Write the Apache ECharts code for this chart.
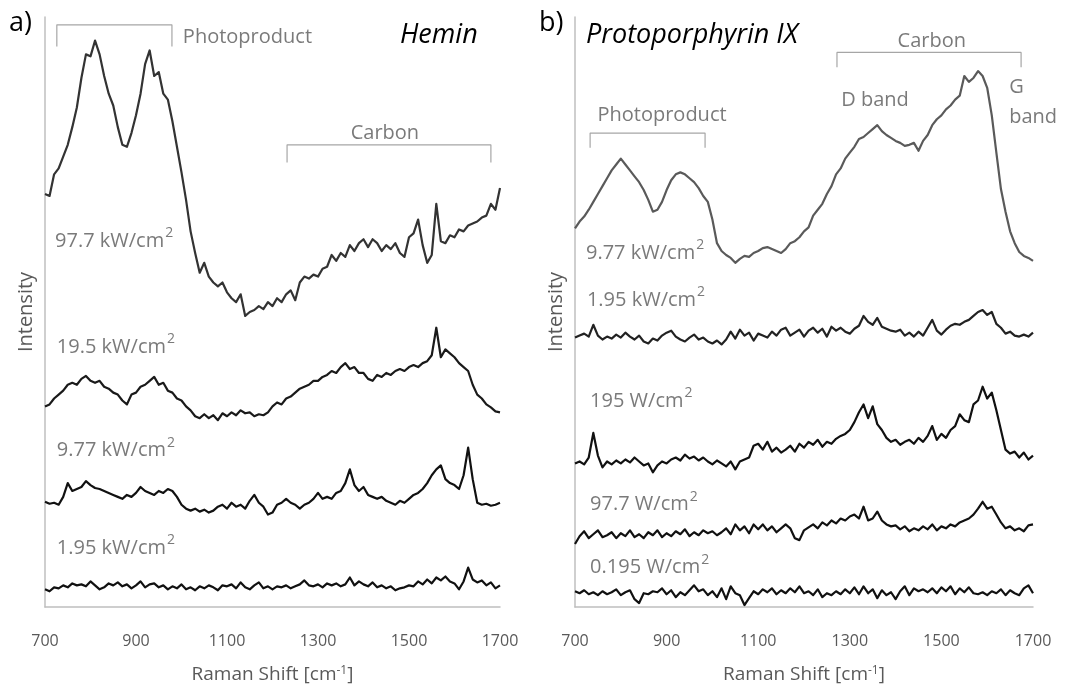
<!DOCTYPE html>
<html>
<head>
<meta charset="utf-8">
<title>Raman spectra vs. laser power</title>
<script src="https://cdn.jsdelivr.net/npm/echarts@6/dist/echarts.min.js"></script>
<style>
  html, body { margin: 0; padding: 0; background: #fff; }
  #chart { width: 1069px; height: 689px; }
</style>
</head>
<body>
<div id="chart"></div>
<script>
// Raman shift positions (cm-1), shared by every spectrum
const ramanShift = [
  700, 710, 720, 730, 740, 750, 760, 770, 780, 790,
  800, 810, 820, 830, 840, 850, 860, 870, 880, 890,
  900, 910, 920, 930, 940, 950, 960, 970, 980, 990,
  1000, 1010, 1020, 1030, 1040, 1050, 1060, 1070, 1080, 1090,
  1100, 1110, 1120, 1130, 1140, 1150, 1160, 1170, 1180, 1190,
  1200, 1210, 1220, 1230, 1240, 1250, 1260, 1270, 1280, 1290,
  1300, 1310, 1320, 1330, 1340, 1350, 1360, 1370, 1380, 1390,
  1400, 1410, 1420, 1430, 1440, 1450, 1460, 1470, 1480, 1490,
  1500, 1510, 1520, 1530, 1540, 1550, 1560, 1570, 1580, 1590,
  1600, 1610, 1620, 1630, 1640, 1650, 1660, 1670, 1680, 1690,
  1700
]
const xTicks = [700, 900, 1100, 1300, 1500, 1700]

// a) Hemin, stacked spectra (offset intensity, arb. units)
const hemin977kW = [
  420, 418, 440, 446, 458, 470, 488, 508, 538, 562,
  560, 576, 562, 540, 522, 510, 488, 470, 468, 482,
  500, 522, 552, 566, 540, 544, 522, 516, 494, 468,
  442, 414, 382, 360, 340, 350, 336, 330, 326, 330,
  320, 314, 310, 318, 296, 300, 302, 306, 303, 310,
  306, 314, 310, 318, 322, 312, 330, 336, 334, 338,
  336, 344, 346, 358, 352, 360, 356, 368, 362, 370,
  374, 366, 374, 370, 362, 368, 364, 370, 360, 356,
  376, 380, 394, 368, 350, 358, 410, 372, 370, 378,
  376, 384, 382, 388, 390, 392, 396, 398, 410, 404,
  426
]
const hemin195kW = [
  204, 206, 212, 216, 220, 226, 228, 226, 232, 235,
  230, 228, 230, 224, 222, 218, 216, 210, 206, 216,
  218, 224, 226, 230, 234, 226, 228, 220, 218, 212,
  210, 204, 200, 194, 192, 196, 192, 195, 190, 197,
  194, 198, 195, 200, 197, 198, 194, 196, 195, 198,
  204, 208, 206, 212, 214, 218, 222, 224, 226, 230,
  230, 234, 236, 240, 238, 244, 248, 242, 244, 238,
  238, 232, 230, 236, 234, 238, 236, 240, 242, 240,
  244, 246, 244, 248, 250, 256, 284, 254, 262, 258,
  254, 248, 244, 240, 226, 216, 212, 206, 203, 199,
  198
]
const hemin977kWlow = [
  107, 105, 106, 104, 112, 126, 118, 120, 122, 128,
  124, 121, 120, 118, 116, 114, 112, 110, 114, 112,
  116, 122, 118, 116, 114, 118, 116, 120, 118, 112,
  104, 100, 98, 100, 97, 99, 96, 98, 102, 104,
  100, 106, 102, 104, 100, 108, 114, 106, 102, 94,
  96, 104, 106, 110, 106, 104, 100, 104, 106, 110,
  116, 110, 112, 110, 116, 118, 126, 140, 124, 118,
  122, 114, 112, 110, 112, 108, 106, 104, 108, 106,
  110, 114, 116, 120, 126, 134, 140, 144, 130, 126,
  124, 120, 134, 162, 130, 106, 104, 105, 103, 104,
  106
]
const hemin195kWlow = [
  18, 16, 20, 19, 22, 20, 24, 22, 23, 21,
  26, 22, 18, 20, 24, 22, 25, 21, 23, 19,
  22, 26, 20, 23, 24, 20, 22, 18, 21, 19,
  23, 18, 20, 17, 21, 19, 22, 20, 17, 22,
  21, 23, 19, 25, 20, 18, 22, 25, 19, 21,
  18, 21, 20, 22, 19, 21, 23, 27, 22, 21,
  23, 20, 24, 22, 24, 21, 23, 30, 22, 26,
  23, 21, 25, 20, 22, 19, 21, 17, 19, 20,
  22, 21, 26, 23, 28, 24, 30, 27, 31, 26,
  24, 18, 26, 40, 28, 25, 27, 22, 25, 19,
  22
]

// b) Protoporphyrin IX
const ppix977kW = [
  385, 392, 397, 404, 412, 420, 428, 436, 444, 450,
  456, 450, 444, 438, 432, 424, 414, 402, 404, 412,
  424, 434, 440, 442, 440, 436, 432, 426, 418, 412,
  394, 370, 362, 358, 355, 350, 354, 357, 356, 360,
  362, 365, 366, 364, 362, 360, 364, 370, 372, 376,
  382, 386, 398, 404, 410, 420, 428, 440, 446, 456,
  462, 468, 476, 478, 482, 486, 490, 484, 480, 477,
  474, 472, 469, 470, 472, 464, 474, 480, 490, 496,
  500, 506, 510, 516, 520, 540, 534, 538, 545, 540,
  528, 500, 462, 425, 402, 382, 370, 361, 357, 355,
  352
]
const ppix195kW = [
  274, 276, 278, 275, 287, 276, 272, 275, 273, 277,
  274, 279, 275, 272, 276, 270, 268, 273, 271, 276,
  279, 281, 275, 272, 270, 274, 277, 272, 274, 270,
  268, 271, 267, 272, 280, 273, 282, 276, 279, 271,
  278, 276, 274, 280, 276, 282, 284, 276, 279, 282,
  275, 281, 284, 279, 283, 275, 285, 281, 284, 280,
  278, 283, 286, 296, 290, 287, 294, 285, 283, 281,
  280, 282, 276, 279, 275, 280, 276, 284, 292, 281,
  277, 282, 286, 288, 287, 290, 292, 296, 300, 302,
  297, 300, 288, 284, 278, 280, 276, 275, 277, 275,
  279
]
const ppix195W = [
  146, 148, 145, 152, 177, 154, 142, 148, 145, 149,
  146, 150, 147, 152, 148, 144, 146, 137, 144, 148,
  146, 150, 152, 149, 155, 151, 153, 149, 152, 148,
  145, 149, 146, 143, 148, 140, 148, 150, 152, 164,
  166, 160, 168, 158, 162, 157, 160, 164, 158, 166,
  162, 168, 165, 170, 163, 168, 166, 171, 174, 176,
  180, 188, 198, 206, 192, 204, 186, 180, 172, 168,
  170, 165, 168, 170, 166, 172, 168, 174, 184, 170,
  176, 172, 180, 184, 196, 190, 188, 206, 210, 224,
  212, 218, 200, 180, 160, 156, 158, 152, 157, 150,
  154
]
const ppix977W = [
  64, 72, 77, 70, 74, 78, 71, 73, 76, 70,
  75, 72, 78, 71, 74, 70, 76, 73, 78, 71,
  75, 72, 77, 74, 79, 72, 76, 73, 78, 75,
  77, 73, 76, 80, 74, 84, 78, 82, 75, 84,
  79, 84, 78, 82, 76, 80, 84, 80, 70, 68,
  78, 81, 84, 80, 86, 83, 88, 85, 90, 88,
  92, 94, 90, 102, 88, 90, 97, 88, 84, 82,
  83, 79, 82, 77, 80, 78, 82, 79, 84, 78,
  82, 80, 84, 82, 86, 88, 90, 94, 100, 107,
  100, 102, 94, 86, 80, 82, 78, 80, 77, 83,
  84
]
const ppix0195W = [
  16, 14, 17, 13, 15, 12, 16, 13, 15, 18,
  12, 15, 17, 8, 4, 14, 13, 16, 15, 19,
  13, 17, 10, 15, 12, 17, 22, 16, 18, 12,
  16, 10, 19, 8, 21, 14, 12, 2, 9, 16,
  13, 18, 15, 19, 13, 17, 14, 19, 15, 21,
  14, 16, 12, 18, 10, 14, 12, 16, 13, 18,
  14, 20, 13, 21, 14, 18, 9, 17, 12, 15,
  8, 16, 21, 12, 19, 16, 18, 15, 19, 14,
  20, 16, 21, 13, 19, 15, 20, 14, 13, 15,
  12, 16, 14, 18, 12, 17, 14, 12, 19, 22,
  14
]

// curve labels: [panel, shift, intensity, text, align]
const powerLabels = [
  [0, 722, 372, '97.7 kW/cm{sup|2}', 'left'],
  [0, 726, 264, '19.5 kW/cm{sup|2}', 'left'],
  [0, 726, 159, '9.77 kW/cm{sup|2}', 'left'],
  [0, 726, 60, '1.95 kW/cm{sup|2}', 'left'],
  [1, 724, 360, '9.77 kW/cm{sup|2}', 'left'],
  [1, 726, 312, '1.95 kW/cm{sup|2}', 'left'],
  [1, 733, 209, '195 W/cm{sup|2}', 'left'],
  [1, 733, 104, '97.7 W/cm{sup|2}', 'left'],
  [1, 733, 40, '0.195 W/cm{sup|2}', 'left']
]
const bandLabels = [
  [0, 1003, 579, 'Photoproduct', 'left'],
  [0, 1447, 482, 'Carbon', 'center'],
  [1, 890, 500, 'Photoproduct', 'center'],
  [1, 1479, 575, 'Carbon', 'center'],
  [1, 1355, 515, 'D band', 'center'],
  [1, 1648, 513, 'G\nband', 'left']
]
// brackets: [panel, from, to, bottom, top]
const brackets = [
  [0, 726, 979, 570, 592],
  [0, 1232, 1680, 452, 470],
  [1, 733, 984, 467, 482],
  [1, 1272, 1674, 549, 564]
]

const FONT = '"Open Sans", Lato, sans-serif'
const GREY_TEXT = '#595959'
const AXIS_GREY = '#bfbfbf'

function pairs(values) {
  return ramanShift.map((x, i) => [x, values[i]])
}

function spectrum(panel, values, color) {
  return {
    type: 'line',
    xAxisIndex: panel,
    yAxisIndex: panel,
    data: pairs(values),
    showSymbol: false,
    symbol: 'none',
    lineStyle: { width: 2.2, color: color, join: 'round' },
    z: 3
  }
}

function textSeries(panel, items, fontSize) {
  return {
    type: 'scatter',
    xAxisIndex: panel,
    yAxisIndex: panel,
    symbolSize: 0,
    silent: true,
    z: 5,
    data: items.filter((d) => d[0] === panel).map((d) => ({
      value: [d[1], d[2]],
      label: {
        show: true,
        position: [0, 0],
        formatter: d[3],
        align: d[4],
        verticalAlign: 'middle',
        fontSize: fontSize,
        lineHeight: 30,
        color: GREY_TEXT,
        fontFamily: FONT,
        rich: {
          sup: { fontSize: 14, verticalAlign: 'top', lineHeight: 26, padding: [0, 0, 4, 1], color: GREY_TEXT, fontFamily: FONT }
        }
      }
    }))
  }
}

function bracketSeries(b) {
  return {
    type: 'line',
    xAxisIndex: b[0],
    yAxisIndex: b[0],
    data: [[b[1], b[3]], [b[1], b[4]], [b[2], b[4]], [b[2], b[3]]],
    showSymbol: false,
    symbol: 'none',
    silent: true,
    lineStyle: { width: 1.2, color: '#a6a6a6' },
    z: 2
  }
}

function xAxisFor(panel) {
  return {
    type: 'value',
    gridIndex: panel,
    min: 700,
    max: 1700,
    interval: 200,
    name: 'Raman Shift [cm{sup|-1}]',
    nameLocation: 'middle',
    nameGap: 58,
    nameTextStyle: {
      fontSize: 19,
      color: GREY_TEXT,
      fontFamily: FONT,
      rich: {
        sup: { fontSize: 12, verticalAlign: 'top', padding: [0, 0, 6, 0], color: GREY_TEXT, fontFamily: FONT }
      }
    },
    axisLine: { show: true, lineStyle: { color: AXIS_GREY, width: 1.5 } },
    axisTick: { show: false },
    splitLine: { show: false },
    axisLabel: {
      fontSize: 16,
      color: GREY_TEXT,
      fontFamily: FONT,
      margin: 26,
      formatter: (v) => (xTicks.includes(v) ? String(v) : '')
    }
  }
}

function yAxisFor(panel) {
  return {
    type: 'value',
    gridIndex: panel,
    min: 0,
    max: 600,
    name: 'Intensity',
    nameLocation: 'middle',
    nameGap: 9,
    nameTextStyle: { fontSize: 20, color: GREY_TEXT, fontFamily: FONT },
    axisLine: { show: true, lineStyle: { color: AXIS_GREY, width: 1.5 } },
    axisTick: { show: false },
    axisLabel: { show: false },
    splitLine: { show: false }
  }
}

const chart = echarts.init(document.getElementById('chart'), null, { renderer: 'canvas' })

chart.setOption({
  animation: false,
  backgroundColor: '#ffffff',
  grid: [
    { left: 45, right: 569, top: 17, bottom: 72, containLabel: false },
    { left: 575, right: 36, top: 17, bottom: 72, containLabel: false }
  ],
  xAxis: [xAxisFor(0), xAxisFor(1)],
  yAxis: [yAxisFor(0), yAxisFor(1)],
  graphic: [
    { type: 'text', left: 9, top: 10, style: { text: 'a)', fontSize: 27, fill: '#000', fontFamily: FONT } },
    { type: 'text', left: 539, top: 10, style: { text: 'b)', fontSize: 27, fill: '#000', fontFamily: FONT } },
    { type: 'text', left: 400, top: 22, style: { text: 'Hemin', fontSize: 27, fontStyle: 'italic', fill: '#000', fontFamily: FONT } },
    { type: 'text', left: 586, top: 22, style: { text: 'Protoporphyrin IX', fontSize: 27, fontStyle: 'italic', fill: '#000', fontFamily: FONT } }
  ],
  series: [
    spectrum(0, hemin977kW, '#333333'),
    spectrum(0, hemin195kW, '#1a1a1a'),
    spectrum(0, hemin977kWlow, '#111111'),
    spectrum(0, hemin195kWlow, '#111111'),
    spectrum(1, ppix977kW, '#5a5a5a'),
    spectrum(1, ppix195kW, '#222222'),
    spectrum(1, ppix195W, '#111111'),
    spectrum(1, ppix977W, '#111111'),
    spectrum(1, ppix0195W, '#111111'),
    ...brackets.map(bracketSeries),
    textSeries(0, powerLabels, 20),
    textSeries(1, powerLabels, 20),
    textSeries(0, bandLabels, 20),
    textSeries(1, bandLabels, 20)
  ]
})
</script>
</body>
</html>
